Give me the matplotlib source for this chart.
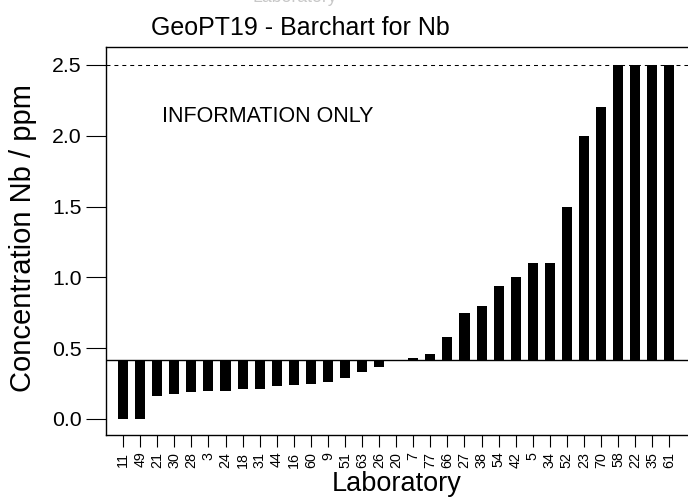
import numpy as np
import matplotlib.pyplot as plt

plt.rcParams['font.family'] = ['Liberation Sans', 'DejaVu Sans']

# laboratory codes, sorted by reported Nb value
labs = ['11', '49', '21', '30', '28', '3', '24', '18', '31', '44', '16',
        '60', '9', '51', '63', '26', '20', '7', '77', '66', '27', '38',
        '54', '42', '5', '34', '52', '23', '70', '58', '22', '35', '61']
# reported concentrations, ppm
conc = [0.0, 0.0, 0.16, 0.18, 0.19, 0.20, 0.20, 0.21, 0.21, 0.23, 0.24,
        0.25, 0.26, 0.29, 0.33, 0.37, 0.42, 0.43, 0.46, 0.58, 0.75, 0.80,
        0.94, 1.0, 1.1, 1.1, 1.5, 2.0, 2.2, 2.5, 2.5, 2.5, 2.5]
assigned = 0.42
upper = 2.5
yticks = [0.0, 0.5, 1.0, 1.5, 2.0, 2.5]

fig = plt.figure(figsize=(6.88, 5.03), dpi=100)
ax = fig.add_axes([0.1541, 0.1352, 0.846, 0.7714])

x = np.arange(len(labs))
ax.bar(x, np.array(conc) - assigned, bottom=assigned, width=0.59,
       color='black', linewidth=0)
ax.axhline(assigned, color='black', lw=1.0)
ax.axhline(upper, color='black', lw=0.75, ls=(0, (3.8, 3.8)))

ax.set_xlim(-1.0, 33.1)
ax.set_ylim(-0.113, 2.627)
ax.set_xticks(x)
ax.set_xticklabels(labs, rotation=90, fontsize=10.3)
ax.set_yticks(yticks)
ax.set_yticklabels(['%.1f' % v for v in yticks], fontsize=15.3)
ax.tick_params(axis='y', length=14.4, width=0.8, pad=3)
ax.tick_params(axis='x', length=8.6, width=0.8, pad=3.4)
ax.spines['right'].set_visible(False)
for s in ['left', 'top', 'bottom']:
    ax.spines[s].set_linewidth(1.0)

ax.text(2.27, 2.133, 'INFORMATION ONLY', fontsize=15.5, va='center')

# clipped leftover label at the very top
fig.text(0.429, 0.996, 'Laboratory', color='#c8c8c8', fontsize=12.7,
         ha='center', va='baseline')
fig.text(0.436, 0.930, 'GeoPT19 - Barchart for Nb', fontsize=18,
         ha='center', va='baseline')
fig.text(0.576, 0.024, 'Laboratory', fontsize=19.5, ha='center',
         va='baseline')
fig.text(0.034, 0.527, 'Concentration Nb / ppm', fontsize=21, rotation=90,
         ha='center', va='center')

fig.savefig('out.png', dpi=100)
